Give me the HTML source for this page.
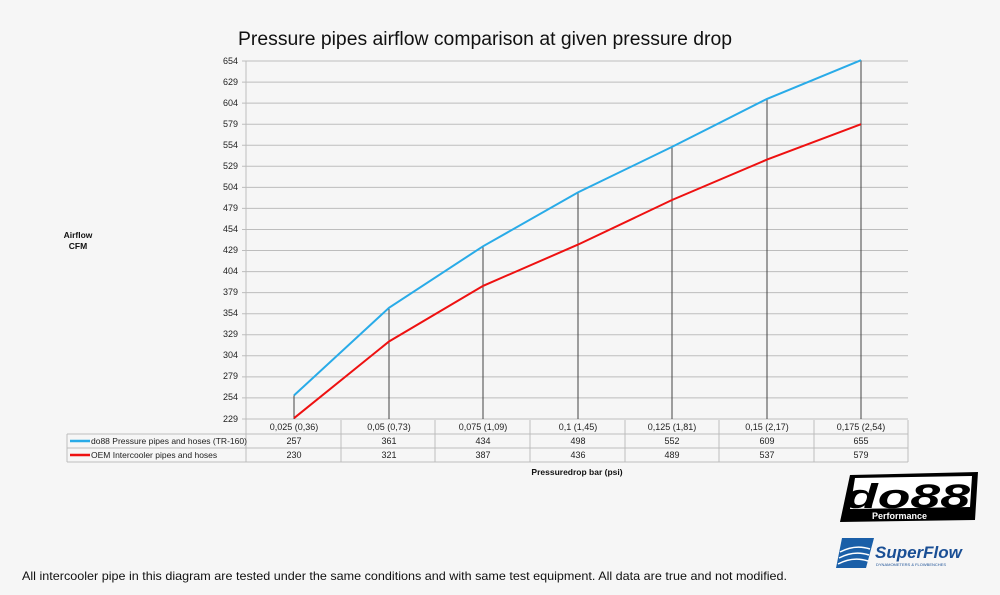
<!DOCTYPE html>
<html><head><meta charset="utf-8"><style>
html,body{margin:0;padding:0;background:#f6f6f6;}
svg{display:block;font-family:"Liberation Sans",sans-serif;}
</style></head><body>
<svg width="1000" height="595" viewBox="0 0 1000 595" xmlns="http://www.w3.org/2000/svg">
<rect width="1000" height="595" fill="#f6f6f6"/>
<text x="238" y="45" font-size="19" fill="#111" textLength="494" lengthAdjust="spacingAndGlyphs">Pressure pipes airflow comparison at given pressure drop</text>
<g stroke="#bdbdbd" stroke-width="1">
<line x1="242" y1="61" x2="908" y2="61"/><line x1="242" y1="82.1" x2="908" y2="82.1"/><line x1="242" y1="103.1" x2="908" y2="103.1"/><line x1="242" y1="124.2" x2="908" y2="124.2"/><line x1="242" y1="145.2" x2="908" y2="145.2"/><line x1="242" y1="166.3" x2="908" y2="166.3"/><line x1="242" y1="187.4" x2="908" y2="187.4"/><line x1="242" y1="208.4" x2="908" y2="208.4"/><line x1="242" y1="229.5" x2="908" y2="229.5"/><line x1="242" y1="250.5" x2="908" y2="250.5"/><line x1="242" y1="271.6" x2="908" y2="271.6"/><line x1="242" y1="292.6" x2="908" y2="292.6"/><line x1="242" y1="313.7" x2="908" y2="313.7"/><line x1="242" y1="334.8" x2="908" y2="334.8"/><line x1="242" y1="355.8" x2="908" y2="355.8"/><line x1="242" y1="376.9" x2="908" y2="376.9"/><line x1="242" y1="397.9" x2="908" y2="397.9"/><line x1="242" y1="419" x2="908" y2="419"/>
<line x1="246" y1="61" x2="246" y2="462"/><line x1="908" y1="420" x2="908" y2="462"/>
<line x1="67" y1="434" x2="908" y2="434"/><line x1="67" y1="448" x2="908" y2="448"/><line x1="67" y1="462" x2="908" y2="462"/><line x1="67" y1="434" x2="67" y2="462"/>
<line x1="341" y1="420" x2="341" y2="462"/><line x1="435" y1="420" x2="435" y2="462"/><line x1="530" y1="420" x2="530" y2="462"/><line x1="625" y1="420" x2="625" y2="462"/><line x1="719" y1="420" x2="719" y2="462"/><line x1="814" y1="420" x2="814" y2="462"/>
</g>
<g font-size="9" fill="#222" text-anchor="end">
<text x="238" y="64">654</text><text x="238" y="85">629</text><text x="238" y="106">604</text><text x="238" y="127">579</text><text x="238" y="148">554</text><text x="238" y="169">529</text><text x="238" y="190">504</text><text x="238" y="211">479</text><text x="238" y="232">454</text><text x="238" y="253">429</text><text x="238" y="274">404</text><text x="238" y="295">379</text><text x="238" y="316">354</text><text x="238" y="337">329</text><text x="238" y="358">304</text><text x="238" y="379">279</text><text x="238" y="400">254</text><text x="238" y="422">229</text>
</g>
<g stroke="#444" stroke-width="1">
<line x1="294" y1="395.4" x2="294" y2="419"/><line x1="389" y1="307.8" x2="389" y2="419"/><line x1="483" y1="246.3" x2="483" y2="419"/><line x1="578" y1="192.4" x2="578" y2="419"/><line x1="672" y1="146.9" x2="672" y2="419"/><line x1="767" y1="98.9" x2="767" y2="419"/><line x1="861" y1="60.2" x2="861" y2="419"/>
</g>
<polyline fill="none" stroke="#29abe8" stroke-width="2" points="294,395.4 389,307.8 483,246.3 578,192.4 672,146.9 767,98.9 861,60.2"/>
<polyline fill="none" stroke="#ee1111" stroke-width="2" points="294,418.2 389,341.5 483,285.9 578,244.6 672,200 767,159.6 861,124.2"/>
<g font-size="9" fill="#222" text-anchor="middle">
<text x="294" y="430">0,025 (0,36)</text><text x="389" y="430">0,05 (0,73)</text><text x="483" y="430">0,075 (1,09)</text><text x="578" y="430">0,1 (1,45)</text><text x="672" y="430">0,125 (1,81)</text><text x="767" y="430">0,15 (2,17)</text><text x="861" y="430">0,175 (2,54)</text>
<text x="294" y="444">257</text><text x="389" y="444">361</text><text x="483" y="444">434</text><text x="578" y="444">498</text><text x="672" y="444">552</text><text x="767" y="444">609</text><text x="861" y="444">655</text>
<text x="294" y="458">230</text><text x="389" y="458">321</text><text x="483" y="458">387</text><text x="578" y="458">436</text><text x="672" y="458">489</text><text x="767" y="458">537</text><text x="861" y="458">579</text>
</g>
<line x1="70" y1="441" x2="90" y2="441" stroke="#29abe8" stroke-width="2.5"/>
<line x1="70" y1="455" x2="90" y2="455" stroke="#ee1111" stroke-width="2.5"/>
<g font-size="8.5" fill="#222">
<text x="91" y="444">do88 Pressure pipes and hoses (TR-160)</text>
<text x="91" y="458">OEM Intercooler pipes and hoses</text>
</g>
<g font-size="8.5" font-weight="bold" fill="#111" text-anchor="middle">
<text x="78" y="238">Airflow</text><text x="78" y="249">CFM</text>
<text x="577" y="475">Pressuredrop bar (psi)</text>
</g>
<text x="22" y="580" font-size="12" fill="#111" textLength="765" lengthAdjust="spacingAndGlyphs">All intercooler pipe in this diagram are tested under the same conditions and with same test equipment. All data are true and not modified.</text>
<polygon points="850,475 978,472 975,520 840,522" fill="#000"/>
<polygon points="855,478 972,476 970,507 850,509" fill="#fff"/>
<text x="845" y="508" font-size="34" font-weight="bold" font-style="italic" fill="#000" textLength="125" lengthAdjust="spacingAndGlyphs">do88</text>
<text x="872" y="519" font-size="9" font-weight="bold" fill="#fff">Performance</text>
<polygon points="842,538 874,538 866,568 836,568" fill="#1a5fa8"/>
<path d="M840,552 q15,-8 30,-3 M839,558 q15,-8 30,-3 M838,564 q15,-8 30,-3" stroke="#fff" stroke-width="1.5" fill="none"/>
<text x="875" y="558" font-size="17" font-weight="bold" font-style="italic" fill="#1a4f95">SuperFlow</text>
<text x="876" y="566" font-size="4" fill="#1a4f95">DYNAMOMETERS &amp; FLOWBENCHES</text>
</svg>
</body></html>
